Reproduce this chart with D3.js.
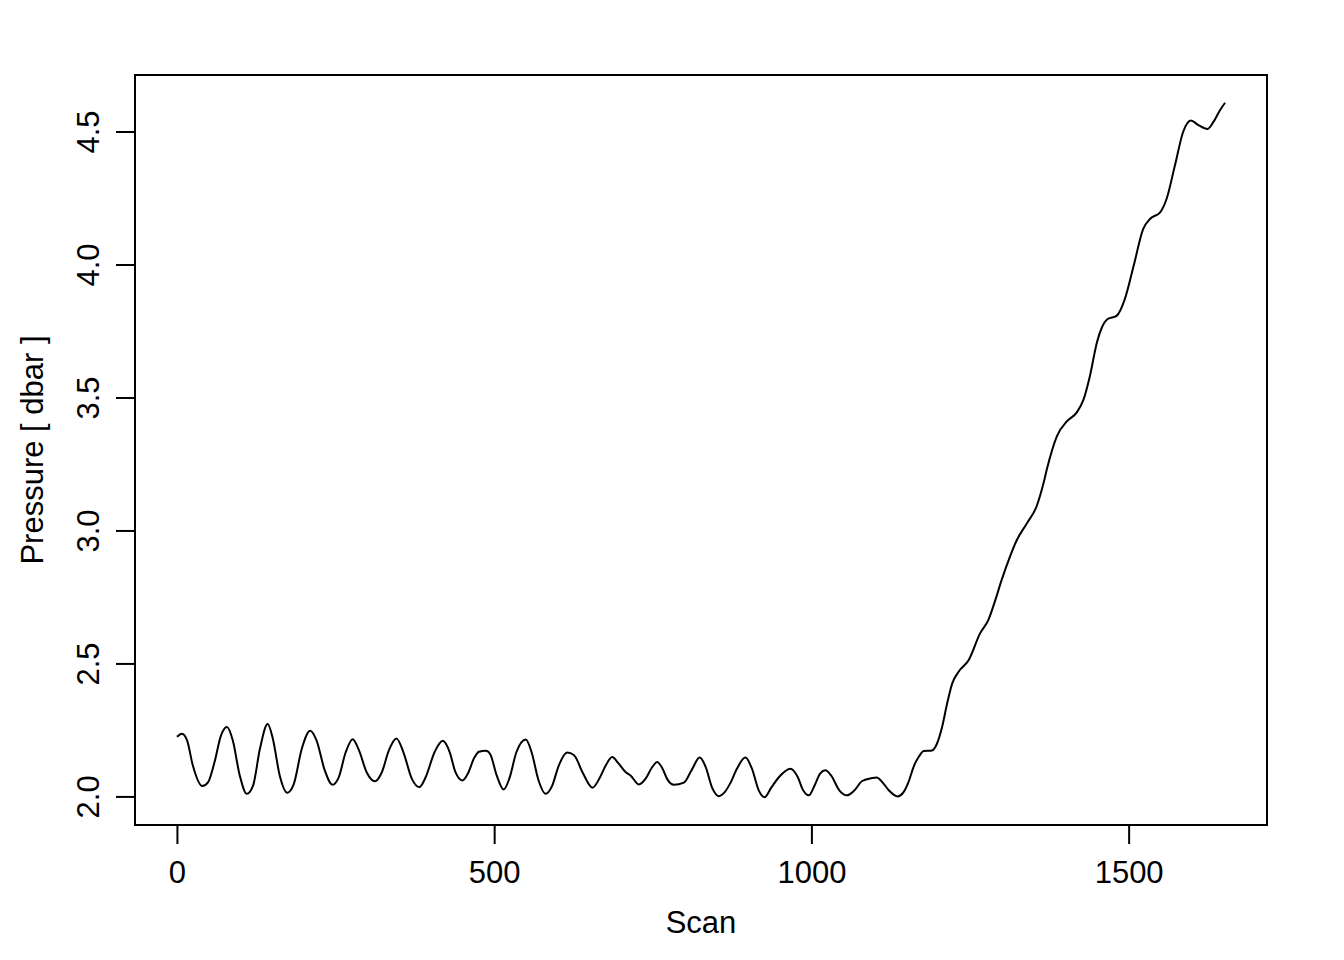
<!DOCTYPE html>
<html>
<head>
<meta charset="utf-8">
<script src="https://cdn.jsdelivr.net/npm/d3@7"></script>
<style>
  html, body { margin: 0; padding: 0; background: #fff; }
  svg text { font-family: "Liberation Sans", Arial, Helvetica, sans-serif; fill: #000; }
</style>
</head>
<body>
<svg id="chart" width="1344" height="960"></svg>
<script>
// Scan index values
const scan = [
  0, 8, 16, 25, 40, 49, 60, 69, 79, 88, 99, 110, 120, 131, 143, 151, 162, 174, 184, 197,
  210, 220, 233, 245, 255, 266, 277, 287, 299, 312, 323, 334, 346, 357, 370, 382, 392, 406, 419, 430,
  439, 450, 458, 469, 476, 487, 494, 504, 515, 524, 535, 550, 559, 570, 581, 591, 602, 615, 626, 639,
  655, 666, 676, 686, 696, 707, 715, 728, 739, 748, 757, 765, 773, 783, 799, 811, 824, 833, 844, 854,
  863, 872, 883, 896, 906, 917, 926, 937, 949, 967, 978, 987, 996, 1005, 1014, 1022, 1031, 1044, 1056, 1068,
  1080, 1096, 1103, 1112, 1122, 1136, 1145, 1153, 1162, 1169, 1177, 1190, 1198, 1206, 1214, 1222, 1232, 1248, 1266, 1279,
  1290, 1300, 1313, 1324, 1340, 1355, 1366, 1371, 1387, 1403, 1418, 1429, 1439, 1450, 1458, 1467, 1481, 1494, 1508, 1523,
  1534, 1550, 1560, 1573, 1586, 1598, 1610, 1624, 1634, 1644, 1652
];
// Pressure [dbar]
const pressure = [
  2.224, 2.236, 2.211, 2.117, 2.039, 2.053, 2.136, 2.226, 2.261, 2.211, 2.079, 2.010, 2.041, 2.181, 2.272, 2.219, 2.079, 2.014, 2.045, 2.181,
  2.247, 2.211, 2.098, 2.044, 2.072, 2.166, 2.215, 2.173, 2.091, 2.057, 2.091, 2.173, 2.218, 2.166, 2.068, 2.035, 2.072, 2.166, 2.209, 2.166,
  2.091, 2.060, 2.083, 2.147, 2.168, 2.172, 2.158, 2.079, 2.026, 2.068, 2.166, 2.214, 2.166, 2.060, 2.010, 2.038, 2.117, 2.165, 2.155, 2.092,
  2.033, 2.068, 2.117, 2.148, 2.124, 2.092, 2.079, 2.045, 2.068, 2.106, 2.129, 2.106, 2.064, 2.044, 2.052, 2.098, 2.146, 2.113, 2.030, 2.001,
  2.015, 2.049, 2.106, 2.146, 2.106, 2.023, 1.997, 2.034, 2.073, 2.104, 2.075, 2.023, 2.004, 2.041, 2.087, 2.098, 2.079, 2.023, 2.004, 2.023,
  2.058, 2.069, 2.071, 2.053, 2.023, 2.000, 2.015, 2.054, 2.117, 2.148, 2.171, 2.173, 2.199, 2.261, 2.350, 2.425, 2.469, 2.513, 2.614, 2.664,
  2.739, 2.815, 2.902, 2.965, 3.028, 3.091, 3.179, 3.229, 3.355, 3.411, 3.443, 3.493, 3.581, 3.707, 3.764, 3.795, 3.807, 3.870, 3.996, 4.134,
  4.172, 4.197, 4.248, 4.373, 4.499, 4.541, 4.524, 4.509, 4.537, 4.580, 4.608
];
const xTicks = [0, 500, 1000, 1500];
const yTicks = [2.0, 2.5, 3.0, 3.5, 4.0, 4.5];
const xTitle = "Scan";
const yTitle = "Pressure [ dbar ]";

const data = scan.map((s, i) => ({ s: s, p: pressure[i] }));

const svg = d3.select("#chart");
const L = 135, R = 1267, T = 75, B = 825;

// R-style 4% padding
const xe = d3.extent(scan), ye = d3.extent(pressure);
const xp = (xe[1] - xe[0]) * 0.04, yp = (ye[1] - ye[0]) * 0.04;
const x = d3.scaleLinear().domain([xe[0] - xp, xe[1] + xp]).range([L, R]);
const y = d3.scaleLinear().domain([ye[0] - yp, ye[1] + yp]).range([B, T]);

const fs = 31;
const tick = 19;

// Line
const line = d3.line().x(d => x(d.s)).y(d => y(d.p)).curve(d3.curveMonotoneX);
svg.append("path").datum(data)
  .attr("d", line)
  .attr("fill", "none")
  .attr("stroke", "#000")
  .attr("stroke-width", 2)
  .attr("stroke-linejoin", "round");

// Box
svg.append("rect").attr("x", L).attr("y", T).attr("width", R - L).attr("height", B - T)
  .attr("fill", "none").attr("stroke", "#000").attr("stroke-width", 2);

// X axis
const xAxis = d3.axisBottom(x).tickValues(xTicks).tickSize(tick).tickPadding(0).tickFormat(d3.format("d"));
const gx = svg.append("g").attr("transform", `translate(0,${B})`).call(xAxis);
gx.select(".domain").attr("d", `M${x(xTicks[0])},0H${x(xTicks[xTicks.length - 1])}`).attr("stroke", "#000").attr("stroke-width", 2);
gx.selectAll(".tick line").attr("stroke", "#000").attr("stroke-width", 2);
gx.selectAll(".tick text").attr("y", 58).attr("dy", null).attr("font-size", fs)
  .style("font-family", '"Liberation Sans", Arial, sans-serif').attr("fill", "#000");

// Y axis
const yAxis = d3.axisLeft(y).tickValues(yTicks).tickSize(tick).tickPadding(0).tickFormat(d3.format(".1f"));
const gy = svg.append("g").attr("transform", `translate(${L},0)`).call(yAxis);
gy.select(".domain").attr("d", `M0,${y(yTicks[0])}V${y(yTicks[yTicks.length - 1])}`).attr("stroke", "#000").attr("stroke-width", 2);
gy.selectAll(".tick line").attr("stroke", "#000").attr("stroke-width", 2);
gy.selectAll(".tick text")
  .attr("x", null).attr("dy", null)
  .attr("text-anchor", "middle")
  .attr("transform", "translate(-36,0) rotate(-90)")
  .attr("font-size", fs)
  .style("font-family", '"Liberation Sans", Arial, sans-serif').attr("fill", "#000");

// Titles
svg.append("text").attr("x", (L + R) / 2).attr("y", 933).attr("text-anchor", "middle")
  .attr("font-size", fs).text(xTitle);
svg.append("text").attr("transform", `translate(43,${(T + B) / 2}) rotate(-90)`).attr("text-anchor", "middle")
  .attr("font-size", fs).text(yTitle);
</script>
</body>
</html>
